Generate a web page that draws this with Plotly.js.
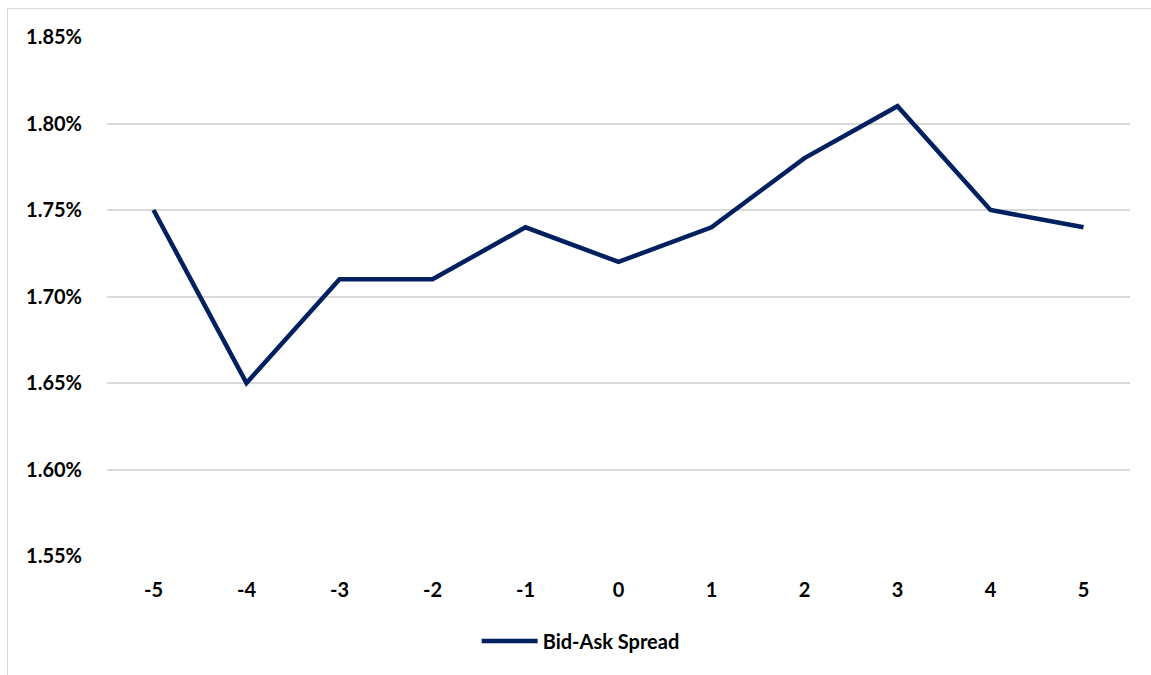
<!DOCTYPE html>
<html>
<head>
<meta charset="utf-8">
<script src="https://cdn.plot.ly/plotly-3.0.1.min.js"></script>
<style>
html,body{margin:0;padding:0;background:#fff;overflow:hidden;}
#chart{position:absolute;left:0;top:0;width:1151px;height:675px;}
#frame{position:absolute;left:7px;top:8px;width:1160px;height:690px;border-left:1.5px solid #d9d9d9;border-top:1.5px solid #d9d9d9;pointer-events:none;}
</style>
</head>
<body>
<div id="chart"></div>
<div id="frame"></div>
<script>
var eventDays = ['-5','-4','-3','-2','-1','0','1','2','3','4','5'];
var bidAskSpread = [0.0175, 0.0165, 0.0171, 0.0171, 0.0174, 0.0172, 0.0174, 0.0178, 0.0181, 0.0175, 0.0174];
var seriesName = 'Bid-Ask Spread';
var yTicks = [0.0155, 0.0160, 0.0165, 0.0170, 0.0175, 0.0180, 0.0185];

var fam = 'Lato, "Open Sans", sans-serif';

Plotly.newPlot('chart', [{
  x: eventDays,
  y: bidAskSpread,
  type: 'scatter',
  mode: 'lines',
  name: seriesName,
  line: {color: '#002060', width: 4.5}
}], {
  width: 1151,
  height: 675,
  margin: {l: 107, r: 21, t: 37, b: 119, autoexpand: false},
  paper_bgcolor: '#fff',
  plot_bgcolor: '#fff',
  showlegend: true,
  font: {family: fam, size: 20, color: '#000'},
  xaxis: {
    type: 'category',
    range: [-0.5, 10.5],
    showgrid: false,
    zeroline: false,
    showline: false,
    ticks: '',
    ticklabelstandoff: 20,
    automargin: false,
    tickfont: {family: fam, size: 20, color: '#000', weight: 'bold'}
  },
  yaxis: {
    range: [0.0155, 0.0185],
    tickvals: yTicks,
    tickformat: '.2%',
    showgrid: true,
    gridcolor: '#d9d9d9',
    gridwidth: 2,
    zeroline: false,
    showline: false,
    ticks: '',
    ticklabelstandoff: 24,
    automargin: false,
    tickfont: {family: fam, size: 20, color: '#000', weight: 'bold'}
  },
  legend: {
    orientation: 'h',
    x: 0.463,
    xanchor: 'center',
    y: -0.164,
    yanchor: 'middle',
    itemwidth: 56,
    font: {family: fam, size: 20, color: '#000', weight: 'bold'}
  }
}, {displayModeBar: false, staticPlot: true});
</script>
</body>
</html>
